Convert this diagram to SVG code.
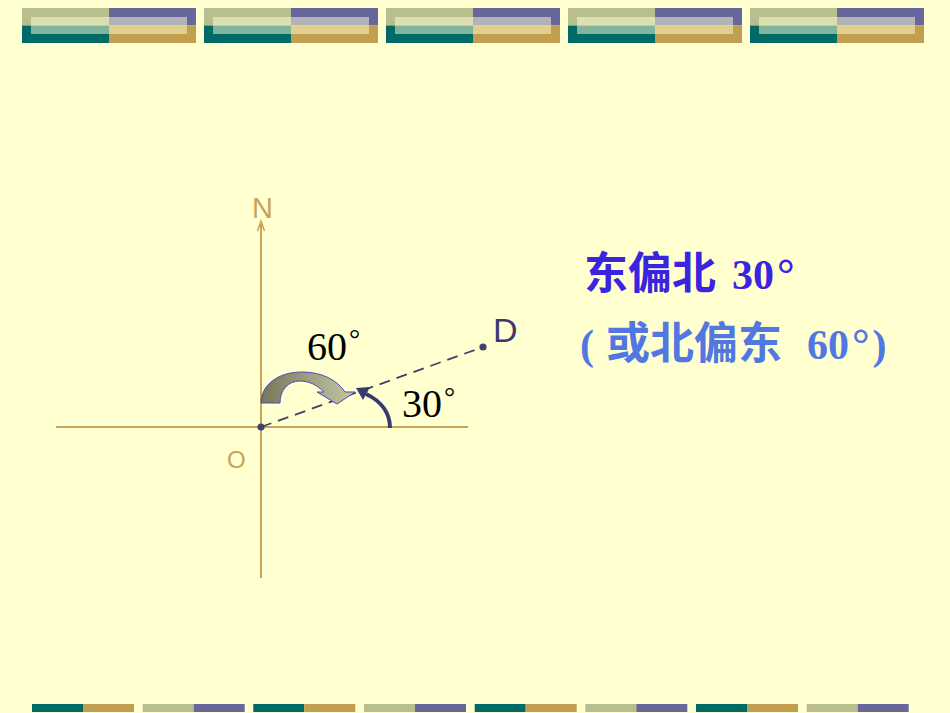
<svg xmlns="http://www.w3.org/2000/svg" width="950" height="713" viewBox="0 0 950 713">
<defs>
<style>
.bg{fill:#FFFFD0}
.kh{fill:#B9BE8F}.pu{fill:#67679C}.te{fill:#006B66}.go{fill:#C29F4F}
.ov{fill:#FFFFD0;fill-opacity:0.5}
.axis{stroke:#C8A45A;stroke-width:2;fill:none}
.lab{font-family:"Liberation Sans","DejaVu Sans",sans-serif}
.deg{font-family:"Liberation Serif","Times New Roman",serif;font-size:40px;fill:#000}
.sm{font-size:28px}
.cn{font-family:"Liberation Serif","Noto Sans CJK SC",serif;font-weight:bold}
</style>
<linearGradient id="g60" x1="0" y1="0" x2="1" y2="0">
<stop offset="0" stop-color="#76775A"/>
<stop offset="1" stop-color="#C4C8A2"/>
</linearGradient>
<g id="tile">
<rect class="kh" x="0" y="0" width="87" height="17.5"/>
<rect class="pu" x="87" y="0" width="87" height="17.5"/>
<rect class="te" x="0" y="17.5" width="87" height="17.5"/>
<rect class="go" x="87" y="17.5" width="87" height="17.5"/>
<rect class="ov" x="9" y="9" width="156" height="17"/>
</g>
<g id="barA"><rect class="te" x="0" y="0" width="51" height="8"/><rect class="go" x="51" y="0" width="51" height="8"/></g>
<g id="barB"><rect class="kh" x="0" y="0" width="51" height="8"/><rect class="pu" x="51" y="0" width="51" height="8"/></g>
</defs>
<rect class="bg" x="0" y="0" width="950" height="713"/>
<g id="header">
<use href="#tile" x="22" y="8"/>
<use href="#tile" x="204" y="8"/>
<use href="#tile" x="386" y="8"/>
<use href="#tile" x="568" y="8"/>
<use href="#tile" x="750" y="8"/>
</g>
<g id="footer">
<use href="#barA" x="32" y="704"/>
<use href="#barB" x="142.7" y="704"/>
<use href="#barA" x="253.3" y="704"/>
<use href="#barB" x="364" y="704"/>
<use href="#barA" x="474.7" y="704"/>
<use href="#barB" x="585.3" y="704"/>
<use href="#barA" x="696" y="704"/>
<use href="#barB" x="806.7" y="704"/>
</g>
<g id="axes">
<line class="axis" x1="261" y1="224" x2="261" y2="578"/>
<path d="M257.5,231 L261,221 L264.5,231" fill="none" stroke="#C8A45A" stroke-width="1.5"/>
<line class="axis" x1="56" y1="427" x2="468" y2="427"/>
</g>
<g id="connectors">
<line id="OD" x1="261" y1="427" x2="483" y2="347" stroke="#404070" stroke-width="1.8" stroke-dasharray="11,7"/>
<path id="arc30" d="M390,428 C390,413 381,401 366,394" fill="none" stroke="#3A3A70" stroke-width="4"/>
<polygon points="356,388 370,387 363,400" fill="#3A3A70"/>
<path id="arrow60" d="M261,403 C261,385 278,372 302,372 C322,372 337,380 345,392 L355,392 L337,404 L317,392 L324,392 C318,386 310,381 300,381 C288,381 280,390 280,403 Z" fill="url(#g60)" stroke="#4A48C0" stroke-width="1"/>
</g>
<g id="node-O">
<circle cx="261" cy="427" r="3.6" fill="#404070"/>
<text class="lab" x="227" y="468" font-size="24" fill="#C8A45A">O</text>
</g>
<g id="node-N">
<text class="lab" x="252" y="218" font-size="29" fill="#C8A45A">N</text>
</g>
<g id="node-D">
<circle cx="483" cy="347" r="3.6" fill="#404070"/>
<text class="lab" x="493" y="342" font-size="34" fill="#3A3A70">D</text>
</g>
<g id="label-60">
<text class="deg" x="307" y="360">60<tspan class="sm" dx="2" dy="-12">°</tspan></text>
</g>
<g id="label-30">
<text class="deg" x="402" y="417">30<tspan class="sm" dx="2" dy="-11">°</tspan></text>
</g>
<g id="caption">
<text class="cn" y="289" fill="#3A24E0"><tspan x="584" font-size="44">东偏北</tspan><tspan x="732" font-size="42">30<tspan dx="3" font-size="44">°</tspan></tspan></text>
<text class="cn" y="359" fill="#5078E0"><tspan x="580" font-size="42">(</tspan><tspan x="606" font-size="44">或北偏东</tspan><tspan x="807" font-size="42">60<tspan dx="3" font-size="44">°</tspan><tspan dx="3">)</tspan></tspan></text>
</g>
</svg>
